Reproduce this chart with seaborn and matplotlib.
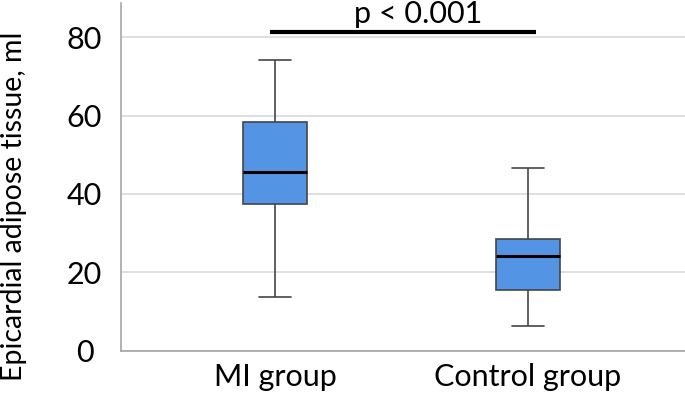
import matplotlib
matplotlib.use("Agg")
import matplotlib.pyplot as plt
import pandas as pd
import seaborn as sns
import numpy as np

# five-number summaries (min, Q1, median, Q3, max)
groups = ["MI group", "Control group"]
mi_values = [13.8, 37.5, 45.7, 58.5, 74.2]
control_values = [6.3, 15.6, 24.1, 28.4, 46.7]

y_ticks = [0, 20, 40, 60, 80]
p_label = "p < 0.001"
sig_level = 81.3

df = pd.DataFrame({
    "grupo": [groups[0]] * len(mi_values) + [groups[1]] * len(control_values),
    "valor": mi_values + control_values,
})

sns.set_style("white")
plt.rcParams['font.family'] = ['Lato', 'DejaVu Sans']
plt.rcParams['text.color'] = 'black'
plt.rcParams['axes.labelcolor'] = 'black'

fig = plt.figure(figsize=(6.85, 4.04), dpi=100)
ax = fig.add_axes([0.176, 0.132, 0.824, 0.861])

sns.boxplot(data=df, x="grupo", y="valor", order=groups, width=0.25,
            color="#5394e4", saturation=1, whis=(0, 100),
            linecolor="#454545", linewidth=1.2,
            medianprops={"color": "black", "linewidth": 2.2},
            ax=ax, zorder=3)

ax.set_ylim(0, 88.8)
ax.set_xlim(-0.61, 1.62)
ax.set_yticks(y_ticks)
ax.yaxis.grid(True, color="#d9d9d9", linewidth=1.2, zorder=0)
ax.set_axisbelow(True)

for side in ["top", "right"]:
    ax.spines[side].set_visible(False)
for side in ["left", "bottom"]:
    ax.spines[side].set_color("#a6a6a6")
    ax.spines[side].set_linewidth(1.2)

ax.tick_params(axis="y", length=5, width=1.2, color="#d9d9d9", labelsize=22,
               pad=21, labelcolor="black")
for lab in ax.get_yticklabels():
    lab.set_horizontalalignment("center")
ax.tick_params(axis="x", length=0, labelsize=22, pad=9, labelcolor="black")
ax.set_xlabel("")
ax.set_ylabel("Epicardial adipose tissue, ml", fontsize=20.5, va="center")
ax.yaxis.set_label_coords(-0.188, 0.415)

# significance bar
ax.plot([-0.02, 1.03], [sig_level, sig_level], color="black", linewidth=3,
        solid_capstyle="butt", clip_on=False)
ax.text(0.565, 83.7, p_label, ha="center", va="baseline", fontsize=22)

fig.savefig("out.png", dpi=100)
